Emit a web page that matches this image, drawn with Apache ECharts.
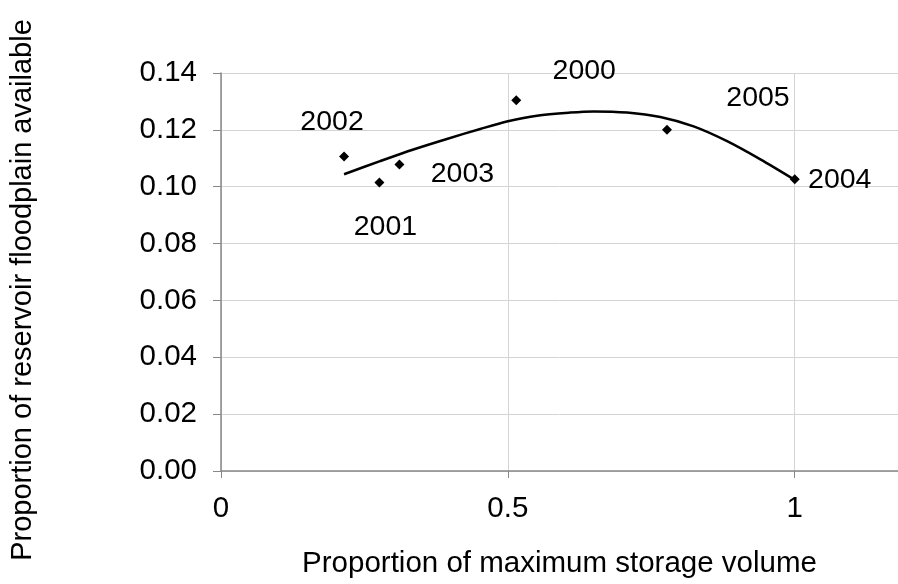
<!DOCTYPE html>
<html>
<head>
<meta charset="utf-8">
<script src="https://cdn.jsdelivr.net/npm/echarts@6/dist/echarts.min.js"></script>
<style>
html,body{margin:0;padding:0;background:#fff;}
#chart{width:898px;height:584px;}
</style>
</head>
<body>
<div id="chart"></div>
<script>
// Observed points
const years = ['2000', '2001', '2002', '2003', '2004', '2005'];
const storageVolume = [0.5146, 0.2761, 0.2145, 0.311, 1.0, 0.7774];
const floodplainAvailable = [0.1304, 0.1015, 0.1106, 0.1078, 0.1026, 0.1200];

// Trend line
const trendX = [0.2145, 0.2773, 0.3354, 0.3937, 0.4518, 0.5, 0.5507, 0.6088, 0.6494, 0.7077, 0.7657, 0.8238, 0.8821, 0.9402, 0.9983];
const trendY = [0.1044, 0.1090, 0.1131, 0.1168, 0.1203, 0.1230, 0.1250, 0.1261, 0.1265, 0.1261, 0.1245, 0.1212, 0.1160, 0.1096, 0.1026];

// Axis tick labels
const xTicks = ['0', '0.5', '1'];
const yTicks = ['0.00', '0.02', '0.04', '0.06', '0.08', '0.10', '0.12', '0.14'];

// Label offsets (style only)
const labelOffsets = {
  '2000': [68, -29],
  '2001': [6, 45],
  '2002': [-12, -34],
  '2003': [63, 10],
  '2004': [45, 1],
  '2005': [91, -32]
};

const FONT = 'Liberation Sans, Arial, sans-serif';

const scatterData = years.map((y, i) => ({
  value: [storageVolume[i], floodplainAvailable[i]],
  name: y,
  label: { offset: labelOffsets[y] }
}));
const trendData = trendX.map((x, i) => [x, trendY[i]]);

const chart = echarts.init(document.getElementById('chart'), null, { renderer: 'canvas' });
chart.setOption({
  animation: false,
  backgroundColor: '#ffffff',
  grid: { left: 221, top: 73, bottom: 109, right: 0, containLabel: false },
  xAxis: {
    type: 'value',
    min: 0, max: 1.18, interval: 0.5,
    name: 'Proportion of maximum storage volume',
    nameLocation: 'middle',
    nameGap: 78,
    nameTextStyle: { fontFamily: FONT, fontSize: 29.5, color: '#000' },
    axisLine: { show: true, onZero: false, lineStyle: { color: '#888888', width: 1.5 } },
    axisTick: { show: true, length: 7, inside: false, lineStyle: { color: '#888888' } },
    axisLabel: {
      fontFamily: FONT, fontSize: 29.5, color: '#000', margin: 23,
      showMaxLabel: false,
      formatter: v => {
        const idx = Math.round(v / 0.5);
        return Math.abs(v - idx * 0.5) < 1e-9 && idx < xTicks.length ? xTicks[idx] : '';
      }
    },
    splitLine: { show: true, lineStyle: { color: '#d4d4d4', width: 1 } }
  },
  yAxis: {
    type: 'value',
    min: 0, max: 0.14, interval: 0.02,
    name: 'Proportion of reservoir floodplain available',
    nameLocation: 'middle',
    nameGap: 184,
    nameTextStyle: { fontFamily: FONT, fontSize: 29, color: '#000', padding: [0, 36, 0, 0] },
    axisLine: { show: true, lineStyle: { color: '#888888', width: 1.5 } },
    axisTick: { show: true, length: 8, inside: false, lineStyle: { color: '#888888' } },
    axisLabel: {
      fontFamily: FONT, fontSize: 29.5, color: '#000', margin: 24,
      formatter: v => {
        const idx = Math.round(v / 0.02);
        return yTicks[idx] !== undefined ? yTicks[idx] : '';
      }
    },
    splitLine: { show: true, lineStyle: { color: '#d4d4d4', width: 1 } }
  },
  series: [
    {
      type: 'line',
      data: trendData,
      smooth: 0.3,
      showSymbol: false,
      lineStyle: { color: '#000', width: 2.5, join: 'round' },
      z: 2,
      silent: true
    },
    {
      type: 'scatter',
      data: scatterData,
      symbol: 'diamond',
      symbolSize: 10,
      itemStyle: { color: '#000', opacity: 1 },
      z: 3,
      label: {
        show: true,
        position: 'inside',
        formatter: p => p.name,
        fontFamily: FONT,
        fontSize: 28.5,
        color: '#000000',
        opacity: 1,
        textBorderWidth: 0,
        textBorderColor: 'transparent',
        align: 'center',
        verticalAlign: 'middle'
      }
    }
  ]
});
</script>
</body>
</html>
